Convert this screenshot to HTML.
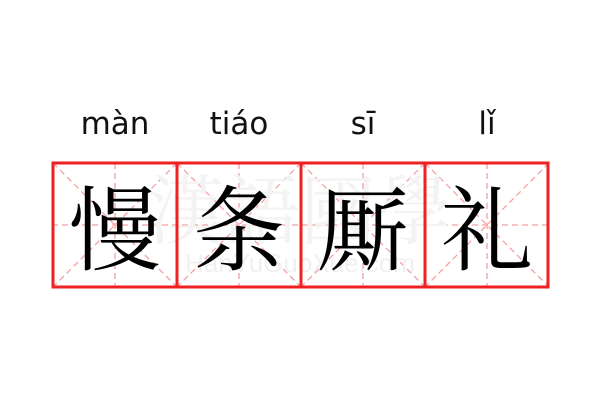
<!DOCTYPE html>
<html><head><meta charset="utf-8"><style>
html,body{margin:0;padding:0;background:#fff;width:600px;height:400px;overflow:hidden;position:relative}
.py{position:absolute;top:106px;width:124px;text-align:center;font:31px "DejaVu Sans","Liberation Sans",sans-serif;color:#111;letter-spacing:0px}
.ch{position:absolute;top:158px;width:124px;height:122px;text-align:center;line-height:122px;font:92px "Noto Serif CJK SC","Noto Sans CJK SC",serif;color:#000}
</style></head><body>
<svg width="600" height="400" style="position:absolute;left:0;top:0">
<g stroke="#f5a0a0" stroke-width="1.3" stroke-dasharray="6,4" fill="none">
<line x1="52" y1="225" x2="549" y2="225"/>
<line x1="115" y1="163" x2="115" y2="287"/>
<line x1="239" y1="163" x2="239" y2="287"/>
<line x1="363" y1="163" x2="363" y2="287"/>
<line x1="487" y1="163" x2="487" y2="287"/>
<line x1="53" y1="163" x2="177" y2="287"/><line x1="177" y1="163" x2="53" y2="287"/>
<line x1="177" y1="163" x2="301" y2="287"/><line x1="301" y1="163" x2="177" y2="287"/>
<line x1="301" y1="163" x2="425" y2="287"/><line x1="425" y1="163" x2="301" y2="287"/>
<line x1="425" y1="163" x2="549" y2="287"/><line x1="549" y1="163" x2="425" y2="287"/>
</g>
<text x="300" y="238" text-anchor="middle" font-family="Noto Serif CJK SC,serif" font-size="76" fill="#f3f3f3">漢語國學</text>
<text x="300" y="272" text-anchor="middle" font-family="Liberation Sans,sans-serif" font-size="26" fill="#f0f0f0">HanYuGuoXue.com</text>
<g stroke="#ee2222" stroke-width="3" fill="none">
<rect x="53" y="163" width="495" height="124"/>
<line x1="177" y1="163" x2="177" y2="287"/>
<line x1="301" y1="163" x2="301" y2="287"/>
<line x1="425" y1="163" x2="425" y2="287"/>
</g>
</svg>
<div class="py" style="left:53px">màn</div>
<div class="py" style="left:177px">tiáo</div>
<div class="py" style="left:301px">sī</div>
<div class="py" style="left:425px">lǐ</div>
<div class="ch" style="left:53px">慢</div>
<div class="ch" style="left:177px">条</div>
<div class="ch" style="left:301px">厮</div>
<div class="ch" style="left:425px">礼</div>
</body></html>
